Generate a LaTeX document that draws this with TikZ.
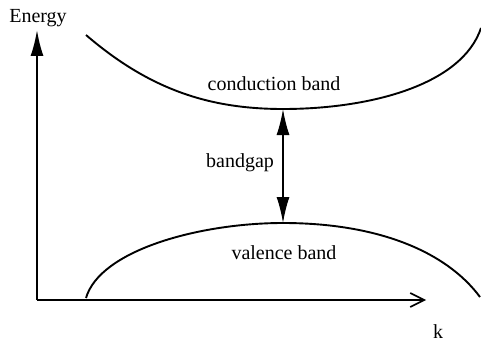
\documentclass[tikz,border=0pt]{standalone}
\usepackage{fontspec}
\setmainfont{Liberation Serif}
\usetikzlibrary{arrows.meta,positioning}

\begin{document}
\begin{tikzpicture}[
  x=0.5pt, y=-0.5pt,
  lbl/.style={font=\fontsize{10}{12}\selectfont, inner sep=0pt},
  band/.style={line width=0.95pt},
  axis/.style={line width=0.95pt},
  gaparrow/.style={line width=0.8pt, {Latex[length=13pt,width=6.5pt]}-{Latex[length=13pt,width=6.5pt]}}
]
  \useasboundingbox (0,0) rectangle (481,342);

  % axes
  \coordinate (origin) at (37,300);
  \coordinate (etop) at (37,30);
  \coordinate (kend) at (426,300);
  \draw[axis, -{Latex[length=13pt,width=6.5pt]}] (origin) -- (etop);
  \draw[axis, -{Straight Barb[length=7pt,width=7pt,line width=0.8pt]}] (origin) -- (kend);
  \node[lbl] (energy) at (38,18) {Energy};
  \node[lbl] (k) at (438,332) {k};

  % bands
  \coordinate (cmin) at (283,109);
  \coordinate (vmax) at (283,223);
  \draw[band] (86,35) .. controls (150,90) and (210,109) .. (cmin)
              .. controls (370,109) and (462,85) .. (481,28);
  \draw[band] (86,298) .. controls (100,250) and (200,223) .. (vmax)
              .. controls (375,223) and (445,250) .. (480,297);

  \draw[gaparrow] (cmin) -- (vmax);
  \node[lbl] (cband) at (274,84) {conduction band};
  \node[lbl] (gap) at (240,163) {bandgap};
  \node[lbl] (vband) at (284,253) {valence band};
\end{tikzpicture}
\end{document}
